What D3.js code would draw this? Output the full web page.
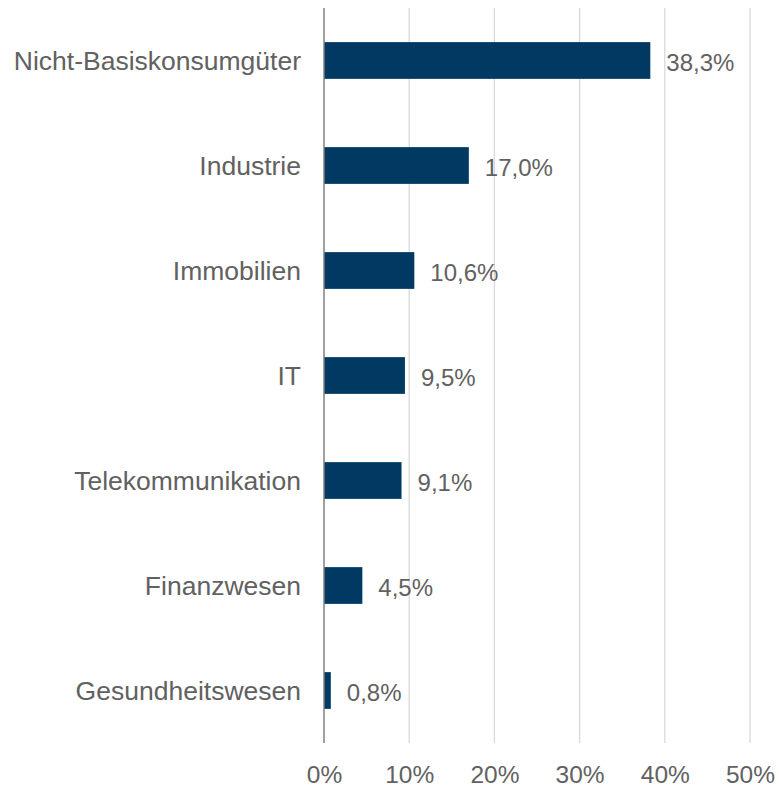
<!DOCTYPE html>
<html>
<head>
<meta charset="utf-8">
<script src="https://cdn.jsdelivr.net/npm/d3@7"></script>
<style>
  body { margin: 0; background: #fff; }
  svg text { font-family: "Liberation Sans", Arial, sans-serif; fill: #616161; }
</style>
</head>
<body>
<svg id="chart" width="779" height="788"></svg>
<script>
const categories = [
  'Nicht-Basiskonsumgüter', 'Industrie', 'Immobilien', 'IT',
  'Telekommunikation', 'Finanzwesen', 'Gesundheitswesen',
]
const values = [38.3, 17.0, 10.6, 9.5, 9.1, 4.5, 0.8]
const tickValues = [0, 10, 20, 30, 40, 50]

const margins = {top: 8, right: 29, bottom: 45, left: 324}
const svg = d3.select('#chart')
const width = +svg.attr('width') - margins.left - margins.right
const height = +svg.attr('height') - margins.top - margins.bottom

const fmt = (v) => v.toFixed(1).replace('.', ',') + '%'

const x = d3.scaleLinear().domain([0, 50]).range([0, width])
const y = d3.scaleBand().domain(categories).range([0, height]).paddingInner(0.65).paddingOuter(0.325)

const g = svg.append('g')
  .attr('transform', `translate(${margins.left}, ${margins.top})`)

// gridlines
g.append('g')
  .selectAll('line')
  .data(tickValues.slice(1))
  .enter()
  .append('line')
  .attr('x1', (d) => x(d))
  .attr('x2', (d) => x(d))
  .attr('y1', 0)
  .attr('y2', height)
  .attr('stroke', '#d9d9d9')
  .attr('stroke-width', 1.3)

// bars
g.selectAll('.bar')
  .data(values)
  .enter()
  .append('rect')
  .attr('class', 'bar')
  .attr('x', 0)
  .attr('y', (d, i) => y(categories[i]))
  .attr('width', (d) => x(d))
  .attr('height', y.bandwidth())
  .attr('fill', '#003a63')

// value labels
g.selectAll('.value')
  .data(values)
  .enter()
  .append('text')
  .attr('class', 'value')
  .attr('x', (d) => x(d) + 16)
  .attr('y', (d, i) => y(categories[i]) + y.bandwidth() / 2)
  .attr('dy', '0.42em')
  .style('font-size', '24px')
  .text(fmt)

// category axis
const yAxis = g.append('g')
  .call(d3.axisLeft(y).tickSize(0).tickPadding(23))
yAxis.select('.domain').remove()
yAxis.selectAll('text').style('font-size', '26.5px').attr('dy', '0.36em')

g.append('line')
  .attr('x1', 0).attr('x2', 0)
  .attr('y1', 0).attr('y2', height)
  .attr('stroke', '#808080')
  .attr('stroke-width', 1.5)

// x axis labels
const xAxis = g.append('g')
  .attr('transform', `translate(0, ${height})`)
  .call(d3.axisBottom(x).tickValues(tickValues).tickSize(0).tickPadding(23).tickFormat((d) => d + '%'))
xAxis.select('.domain').remove()
xAxis.selectAll('text').style('font-size', '24.5px')
</script>
</body>
</html>
